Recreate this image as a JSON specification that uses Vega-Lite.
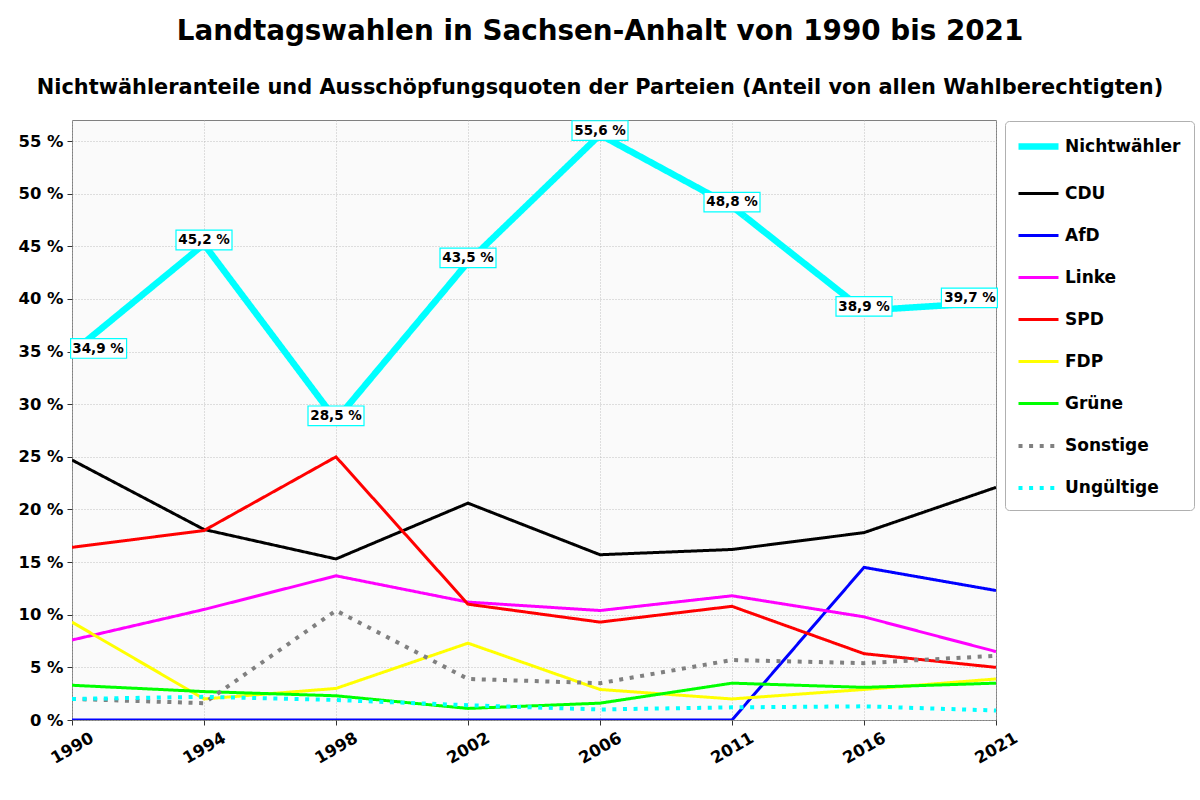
{
  "$schema": "https://vega.github.io/schema/vega-lite/v6.json",
  "autosize": "none",
  "width": 924,
  "height": 600,
  "padding": {"left": 72, "top": 120, "right": 204, "bottom": 80},
  "background": "#ffffff",
  "title": {
    "text": "Landtagswahlen in Sachsen-Anhalt von 1990 bis 2021",
    "subtitle": "Nichtwähleranteile und Ausschöpfungsquoten der Parteien (Anteil von allen Wahlberechtigten)",
    "anchor": "middle",
    "frame": "group",
    "dx": 66,
    "offset": 20,
    "font": "DejaVu Sans",
    "fontSize": 27.8,
    "fontWeight": "bold",
    "color": "#000000",
    "subtitleFont": "DejaVu Sans",
    "subtitleFontSize": 20.9,
    "subtitleFontWeight": "bold",
    "subtitleColor": "#000000",
    "subtitlePadding": 32
  },
  "config": {
    "font": "DejaVu Sans",
    "locale": {
      "number": {"decimal": ",", "thousands": ".", "grouping": [3], "currency": ["", " %"]}
    },
    "view": {"fill": "#fafafa", "stroke": "#808080", "strokeWidth": 1}
  },
  "data": {
    "values": [
      {"Jahr": "1990", "Reihe": "Nichtwähler", "Anteil": 34.9},
      {"Jahr": "1994", "Reihe": "Nichtwähler", "Anteil": 45.2},
      {"Jahr": "1998", "Reihe": "Nichtwähler", "Anteil": 28.5},
      {"Jahr": "2002", "Reihe": "Nichtwähler", "Anteil": 43.5},
      {"Jahr": "2006", "Reihe": "Nichtwähler", "Anteil": 55.6},
      {"Jahr": "2011", "Reihe": "Nichtwähler", "Anteil": 48.8},
      {"Jahr": "2016", "Reihe": "Nichtwähler", "Anteil": 38.9},
      {"Jahr": "2021", "Reihe": "Nichtwähler", "Anteil": 39.7},
      {"Jahr": "1990", "Reihe": "CDU", "Anteil": 24.7},
      {"Jahr": "1994", "Reihe": "CDU", "Anteil": 18.1},
      {"Jahr": "1998", "Reihe": "CDU", "Anteil": 15.3},
      {"Jahr": "2002", "Reihe": "CDU", "Anteil": 20.6},
      {"Jahr": "2006", "Reihe": "CDU", "Anteil": 15.7},
      {"Jahr": "2011", "Reihe": "CDU", "Anteil": 16.2},
      {"Jahr": "2016", "Reihe": "CDU", "Anteil": 17.8},
      {"Jahr": "2021", "Reihe": "CDU", "Anteil": 22.1},
      {"Jahr": "1990", "Reihe": "AfD", "Anteil": 0},
      {"Jahr": "1994", "Reihe": "AfD", "Anteil": 0},
      {"Jahr": "1998", "Reihe": "AfD", "Anteil": 0},
      {"Jahr": "2002", "Reihe": "AfD", "Anteil": 0},
      {"Jahr": "2006", "Reihe": "AfD", "Anteil": 0},
      {"Jahr": "2011", "Reihe": "AfD", "Anteil": 0},
      {"Jahr": "2016", "Reihe": "AfD", "Anteil": 14.5},
      {"Jahr": "2021", "Reihe": "AfD", "Anteil": 12.3},
      {"Jahr": "1990", "Reihe": "Linke", "Anteil": 7.6},
      {"Jahr": "1994", "Reihe": "Linke", "Anteil": 10.5},
      {"Jahr": "1998", "Reihe": "Linke", "Anteil": 13.7},
      {"Jahr": "2002", "Reihe": "Linke", "Anteil": 11.2},
      {"Jahr": "2006", "Reihe": "Linke", "Anteil": 10.4},
      {"Jahr": "2011", "Reihe": "Linke", "Anteil": 11.8},
      {"Jahr": "2016", "Reihe": "Linke", "Anteil": 9.8},
      {"Jahr": "2021", "Reihe": "Linke", "Anteil": 6.5},
      {"Jahr": "1990", "Reihe": "SPD", "Anteil": 16.4},
      {"Jahr": "1994", "Reihe": "SPD", "Anteil": 18.0},
      {"Jahr": "1998", "Reihe": "SPD", "Anteil": 25.0},
      {"Jahr": "2002", "Reihe": "SPD", "Anteil": 11.0},
      {"Jahr": "2006", "Reihe": "SPD", "Anteil": 9.3},
      {"Jahr": "2011", "Reihe": "SPD", "Anteil": 10.8},
      {"Jahr": "2016", "Reihe": "SPD", "Anteil": 6.3},
      {"Jahr": "2021", "Reihe": "SPD", "Anteil": 5.0},
      {"Jahr": "1990", "Reihe": "FDP", "Anteil": 9.3},
      {"Jahr": "1994", "Reihe": "FDP", "Anteil": 2.0},
      {"Jahr": "1998", "Reihe": "FDP", "Anteil": 3.0},
      {"Jahr": "2002", "Reihe": "FDP", "Anteil": 7.3},
      {"Jahr": "2006", "Reihe": "FDP", "Anteil": 2.9},
      {"Jahr": "2011", "Reihe": "FDP", "Anteil": 2.0},
      {"Jahr": "2016", "Reihe": "FDP", "Anteil": 2.9},
      {"Jahr": "2021", "Reihe": "FDP", "Anteil": 3.9},
      {"Jahr": "1990", "Reihe": "Grüne", "Anteil": 3.3},
      {"Jahr": "1994", "Reihe": "Grüne", "Anteil": 2.7},
      {"Jahr": "1998", "Reihe": "Grüne", "Anteil": 2.3},
      {"Jahr": "2002", "Reihe": "Grüne", "Anteil": 1.1},
      {"Jahr": "2006", "Reihe": "Grüne", "Anteil": 1.6},
      {"Jahr": "2011", "Reihe": "Grüne", "Anteil": 3.5},
      {"Jahr": "2016", "Reihe": "Grüne", "Anteil": 3.1},
      {"Jahr": "2021", "Reihe": "Grüne", "Anteil": 3.5},
      {"Jahr": "1990", "Reihe": "Sonstige", "Anteil": 2.0},
      {"Jahr": "1994", "Reihe": "Sonstige", "Anteil": 1.6},
      {"Jahr": "1998", "Reihe": "Sonstige", "Anteil": 10.4},
      {"Jahr": "2002", "Reihe": "Sonstige", "Anteil": 3.9},
      {"Jahr": "2006", "Reihe": "Sonstige", "Anteil": 3.5},
      {"Jahr": "2011", "Reihe": "Sonstige", "Anteil": 5.7},
      {"Jahr": "2016", "Reihe": "Sonstige", "Anteil": 5.4},
      {"Jahr": "2021", "Reihe": "Sonstige", "Anteil": 6.1},
      {"Jahr": "1990", "Reihe": "Ungültige", "Anteil": 2.0},
      {"Jahr": "1994", "Reihe": "Ungültige", "Anteil": 2.2},
      {"Jahr": "1998", "Reihe": "Ungültige", "Anteil": 1.9},
      {"Jahr": "2002", "Reihe": "Ungültige", "Anteil": 1.4},
      {"Jahr": "2006", "Reihe": "Ungültige", "Anteil": 1.0},
      {"Jahr": "2011", "Reihe": "Ungültige", "Anteil": 1.2},
      {"Jahr": "2016", "Reihe": "Ungültige", "Anteil": 1.3},
      {"Jahr": "2021", "Reihe": "Ungültige", "Anteil": 0.9}
    ]
  },
  "encoding": {
    "x": {
      "field": "Jahr",
      "type": "ordinal",
      "scale": {"type": "point", "padding": 0},
      "axis": {
        "title": null,
        "labelAngle": -30,
        "labelAlign": "center",
        "labelBaseline": "middle",
        "labelPadding": 23,
        "labelFontSize": 16.5,
        "labelFontWeight": "bold",
        "labelColor": "#000000",
        "tickSize": 5,
        "tickColor": "#333333",
        "domain": false,
        "grid": true,
        "gridColor": "#b0b0b0",
        "gridDash": [1, 2],
        "gridWidth": 0.8
      }
    },
    "y": {
      "field": "Anteil",
      "type": "quantitative",
      "scale": {"domain": [0, 57], "nice": false, "zero": true},
      "axis": {
        "title": null,
        "values": [0, 5, 10, 15, 20, 25, 30, 35, 40, 45, 50, 55],
        "labelExpr": "datum.value + ' %'",
        "labelFontSize": 16.4,
        "labelFontWeight": "bold",
        "labelColor": "#000000",
        "labelPadding": 4,
        "tickSize": 5,
        "tickColor": "#333333",
        "domain": false,
        "grid": true,
        "gridColor": "#b0b0b0",
        "gridDash": [1, 2],
        "gridWidth": 0.8
      }
    }
  },
  "layer": [
    {
      "mark": {"type": "line", "clip": true},
      "encoding": {
        "color": {
          "field": "Reihe",
          "type": "nominal",
          "scale": {
            "domain": ["Nichtwähler", "CDU", "AfD", "Linke", "SPD", "FDP", "Grüne", "Sonstige", "Ungültige"],
            "range": ["#00ffff", "#000000", "#0000ff", "#ff00ff", "#ff0000", "#ffff00", "#00ff00", "#808080", "#00ffff"]
          },
          "legend": {
            "title": "_____________________________________",
            "titleOrient": "bottom",
            "titleFontSize": 10,
            "titleFontWeight": "bold",
            "titleColor": "rgba(255,255,255,0)",
            "titleLimit": 400,
            "titlePadding": 2,
            "orient": "none",
            "legendX": 933,
            "legendY": 1,
            "symbolType": "stroke",
            "symbolSize": 1600,
            "labelFontSize": 17,
            "labelFontWeight": "bold",
            "labelColor": "#000000",
            "labelLimit": 300,
            "labelOffset": 3,
            "rowPadding": 12,
            "padding": 2,
            "symbolOffset": 8,
            "fillColor": "#ffffff",
            "strokeColor": "#b0b0b0",
            "cornerRadius": 4
          }
        },
        "strokeDash": {
          "field": "Reihe",
          "type": "nominal",
          "scale": {
            "domain": ["Nichtwähler", "CDU", "AfD", "Linke", "SPD", "FDP", "Grüne", "Sonstige", "Ungültige"],
            "range": [[1, 0], [1, 0], [1, 0], [1, 0], [1, 0], [1, 0], [1, 0], [4, 6.6], [4, 6.6]]
          },
          "legend": null
        },
        "strokeWidth": {
          "field": "Reihe",
          "type": "nominal",
          "scale": {
            "type": "ordinal",
            "domain": ["Nichtwähler", "CDU", "AfD", "Linke", "SPD", "FDP", "Grüne", "Sonstige", "Ungültige"],
            "range": [6.5, 3, 3, 3, 3, 3, 3, 4, 4]
          },
          "legend": null
        },
        "order": {"field": "Jahr"}
      }
    },
    {
      "transform": [{"filter": "datum.Reihe == 'Nichtwähler' && datum.Jahr != '1990' && datum.Jahr != '2021'"}],
      "mark": {"type": "point", "shape": "M-1,-0.5H1V0.2H-1Z", "size": 3136, "filled": true, "fill": "#ffffff", "stroke": "#00ffff", "strokeWidth": 1.2, "opacity": 1}
    },
    {
      "transform": [{"filter": "datum.Reihe == 'Nichtwähler' && datum.Jahr == '1990'"}],
      "mark": {"type": "point", "shape": "M-0.05,-0.5H1.95V0.2H-0.05Z", "size": 3136, "filled": true, "fill": "#ffffff", "stroke": "#00ffff", "strokeWidth": 1.2, "opacity": 1}
    },
    {
      "transform": [{"filter": "datum.Reihe == 'Nichtwähler' && datum.Jahr == '2021'"}],
      "mark": {"type": "point", "shape": "M-1.95,-0.5H0.05V0.2H-1.95Z", "size": 3136, "filled": true, "fill": "#ffffff", "stroke": "#00ffff", "strokeWidth": 1.2, "opacity": 1}
    },
    {
      "transform": [{"filter": "datum.Reihe == 'Nichtwähler' && datum.Jahr != '1990' && datum.Jahr != '2021'"}],
      "mark": {"type": "text", "align": "center", "baseline": "middle", "dy": -4, "fontSize": 13.5, "fontWeight": "bold", "color": "#000000"},
      "encoding": {"text": {"field": "Anteil", "type": "quantitative", "format": "$.1f"}}
    },
    {
      "transform": [{"filter": "datum.Reihe == 'Nichtwähler' && datum.Jahr == '1990'"}],
      "mark": {"type": "text", "align": "center", "baseline": "middle", "dx": 26, "dy": -4, "fontSize": 13.5, "fontWeight": "bold", "color": "#000000"},
      "encoding": {"text": {"field": "Anteil", "type": "quantitative", "format": "$.1f"}}
    },
    {
      "transform": [{"filter": "datum.Reihe == 'Nichtwähler' && datum.Jahr == '2021'"}],
      "mark": {"type": "text", "align": "center", "baseline": "middle", "dx": -26, "dy": -4, "fontSize": 13.5, "fontWeight": "bold", "color": "#000000"},
      "encoding": {"text": {"field": "Anteil", "type": "quantitative", "format": "$.1f"}}
    }
  ]
}
